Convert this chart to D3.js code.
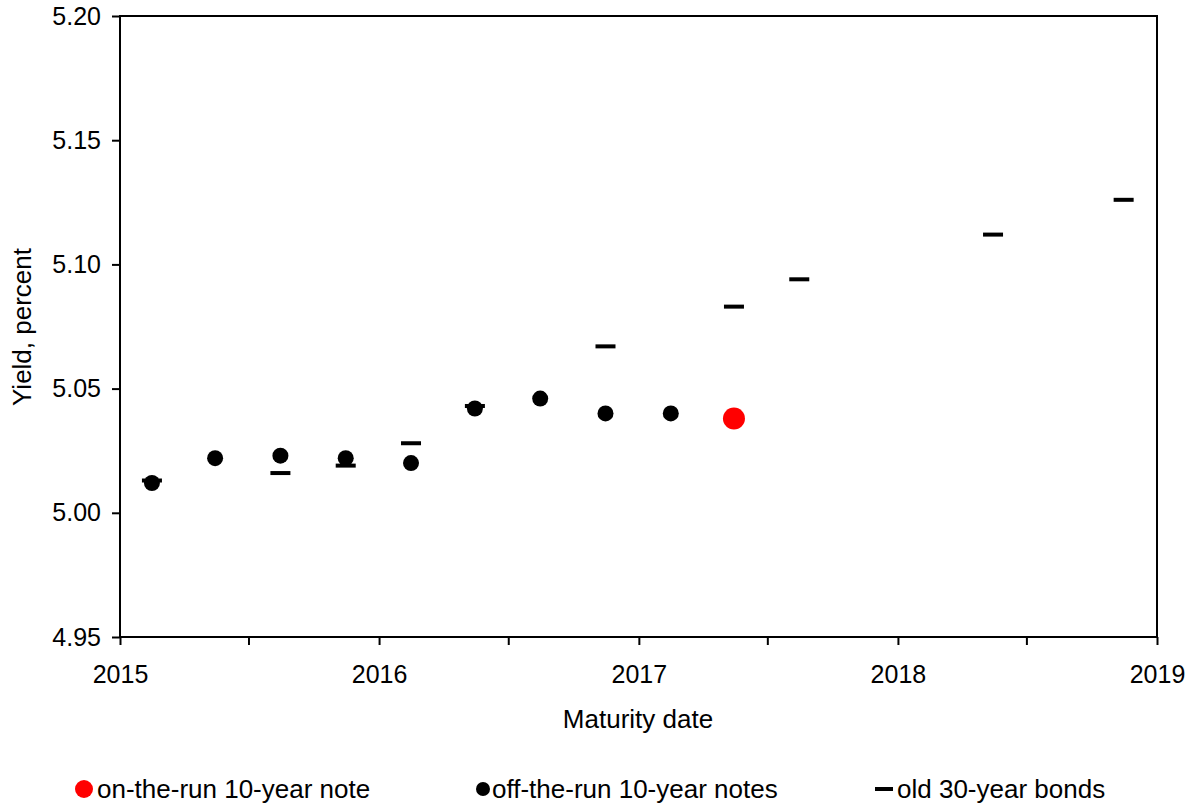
<!DOCTYPE html>
<html><head><meta charset="utf-8">
<script src="https://cdn.jsdelivr.net/npm/d3@7"></script>
<style>body{margin:0;background:#fff;} text{font-family:"Liberation Sans",Arial,sans-serif;fill:#000;}</style>
</head><body><svg id="c" width="1196" height="809"></svg>
<script>
const onRunDates = ["2017-05-15"];
const onRunYields = [5.038];
const offRunDates = ["2015-02-15","2015-05-15","2015-08-15","2015-11-15","2016-02-15","2016-05-15","2016-08-15","2016-11-15","2017-02-15"];
const offRunYields = [5.012,5.022,5.023,5.022,5.020,5.042,5.046,5.040,5.040];
const bondDates = ["2015-02-15","2015-08-15","2015-11-15","2016-02-15","2016-05-15","2016-11-15","2017-05-15","2017-08-15","2018-05-15","2018-11-15"];
const bondYields = [5.013,5.016,5.019,5.028,5.043,5.067,5.083,5.094,5.112,5.126];
const yTicks = [4.95,5.00,5.05,5.10,5.15,5.20];
const xTickYears = [2015,2016,2017,2018,2019];
const legendLabels = ["on-the-run 10-year note","off-the-run 10-year notes","old 30-year bonds"];

const svg = d3.select("#c");
const L=120,R=1157,T=16,B=637;
const FS="25px";
const parse = d3.timeParse("%Y-%m-%d");
const x = d3.scaleTime().domain([new Date(2015,0,1), new Date(2019,0,1)]).range([L,R]);
const y = d3.scaleLinear().domain([4.95,5.20]).range([B,T]);

const xMajor = xTickYears.map(yr=>new Date(yr,0,1));
const xMinor = xTickYears.slice(0,-1).map(yr=>new Date(yr,6,1));
const xAxis = d3.axisBottom(x).tickValues(xMajor.concat(xMinor)).tickSize(8).tickPadding(20)
  .tickFormat(d=>d.getMonth()===0? d3.timeFormat("%Y")(d):"");
const gx = svg.append("g").attr("transform",`translate(0,${B})`).call(xAxis);
gx.select(".domain").remove();
gx.selectAll(".tick line").attr("stroke","#000").attr("stroke-width",2);
gx.selectAll(".tick text").style("font-size",FS).attr("dy","0.71em");

const yAxis = d3.axisLeft(y).tickValues(yTicks).tickSize(8).tickPadding(11).tickFormat(d3.format(".2f"));
const gy = svg.append("g").attr("transform",`translate(${L},0)`).call(yAxis);
gy.select(".domain").remove();
gy.selectAll(".tick line").attr("stroke","#000").attr("stroke-width",2);
gy.selectAll(".tick text").style("font-size",FS);

svg.append("rect").attr("x",L).attr("y",T).attr("width",R-L).attr("height",B-T)
  .attr("fill","none").attr("stroke","#000").attr("stroke-width",2);

svg.append("text").attr("x",638).attr("y",728).attr("text-anchor","middle").style("font-size","26px").text("Maturity date");
svg.append("text").attr("transform",`translate(31,327) rotate(-90)`).attr("text-anchor","middle").style("font-size","26px").text("Yield, percent");

svg.append("g").selectAll("rect").data(bondDates.map((d,i)=>({d:parse(d),v:bondYields[i]}))).join("rect")
  .attr("x",p=>x(p.d)-10).attr("y",p=>y(p.v)-2).attr("width",20).attr("height",4).attr("fill","#000");
svg.append("g").selectAll("circle").data(offRunDates.map((d,i)=>({d:parse(d),v:offRunYields[i]}))).join("circle")
  .attr("cx",p=>x(p.d)).attr("cy",p=>y(p.v)).attr("r",8).attr("fill","#000");
svg.append("g").selectAll("circle").data(onRunDates.map((d,i)=>({d:parse(d),v:onRunYields[i]}))).join("circle")
  .attr("cx",p=>x(p.d)).attr("cy",p=>y(p.v)).attr("r",11).attr("fill","#ff0000");

const ly=789, lb=798;
const lg = svg.append("g");
lg.append("circle").attr("cx",84).attr("cy",ly).attr("r",9).attr("fill","#ff0000");
lg.append("text").attr("x",97).attr("y",lb).style("font-size","26px").text(legendLabels[0]);
lg.append("circle").attr("cx",483).attr("cy",ly).attr("r",7).attr("fill","#000");
lg.append("text").attr("x",492).attr("y",lb).style("font-size","26px").text(legendLabels[1]);
lg.append("rect").attr("x",875).attr("y",ly-2).attr("width",18).attr("height",4).attr("fill","#000");
lg.append("text").attr("x",897).attr("y",lb).style("font-size","26px").text(legendLabels[2]);
</script></body></html>
